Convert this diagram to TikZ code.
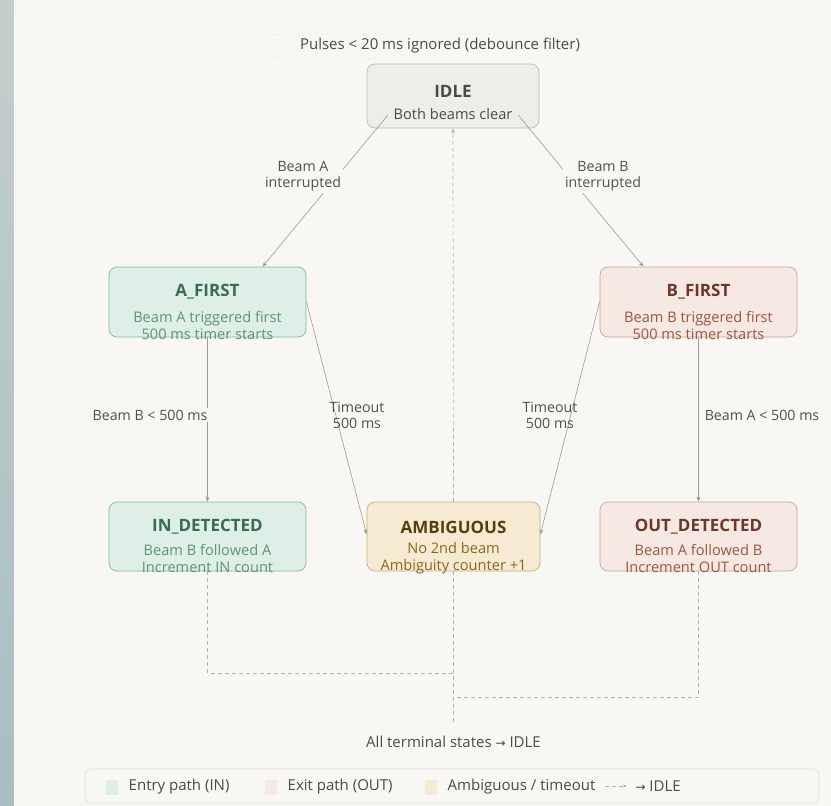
\documentclass[tikz,border=0pt]{standalone}
\usepackage{fontspec}
\setmainfont{Open Sans}
\newfontfamily\arrowfont{DejaVu Sans}
\usetikzlibrary{arrows.meta, positioning, calc}

\definecolor{pagebg}{HTML}{F8F7F3}
\definecolor{stripA}{HTML}{C4CECC}
\definecolor{stripB}{HTML}{A8BEC4}
\definecolor{idlefill}{HTML}{EEEDE8}
\definecolor{idleline}{HTML}{BEBCB6}
\definecolor{idletext}{HTML}{4A4A48}
\definecolor{infill}{HTML}{DDEFE7}
\definecolor{inline}{HTML}{8DB3A1}
\definecolor{intitle}{HTML}{3B6A55}
\definecolor{insub}{HTML}{5E937A}
\definecolor{outfill}{HTML}{F6E9E3}
\definecolor{outline}{HTML}{C8A397}
\definecolor{outtitle}{HTML}{6A392C}
\definecolor{outsub}{HTML}{9C5540}
\definecolor{ambfill}{HTML}{F6EBD2}
\definecolor{ambline}{HTML}{C6AE7A}
\definecolor{ambtitle}{HTML}{54400F}
\definecolor{ambsub}{HTML}{876821}
\definecolor{wire}{HTML}{9B9B99}
\definecolor{dashgrey}{HTML}{B3B2AE}
\definecolor{labeltext}{HTML}{505050}
\definecolor{legline}{HTML}{E0DED8}

\begin{document}
\begin{tikzpicture}[x=1pt, y=-1pt,
    statebox/.style={draw, rounded corners=8pt, line width=0.7pt,
      minimum width=197pt, minimum height=70pt, inner sep=0pt},
    titletext/.style={font=\fontsize{17}{20}\selectfont\bfseries, inner sep=0pt},
    subtext/.style={font=\fontsize{14.6}{17}\selectfont, align=center, inner sep=0pt},
    edgelabel/.style={font=\fontsize{14.2}{16}\selectfont, text=labeltext,
      align=center, fill=pagebg, inner sep=2pt},
    flow/.style={wire, line width=0.6pt, -{Stealth[length=5pt, width=4pt]}},
    back/.style={dashgrey, line width=0.7pt, dash pattern=on 4pt off 3pt},
    swatch/.style={minimum width=12pt, minimum height=15pt, inner sep=0pt},
    legtext/.style={font=\fontsize{15}{17}\selectfont, text=idletext}]

  % Canvas: grey-blue strip at the left, paper colour elsewhere
  \useasboundingbox (0,0) rectangle (831,806);
  \shade[top color=stripA, bottom color=stripB] (0,0) rectangle (14,806);
  \fill[pagebg] (14,0) rectangle (831,806);

  % Debounce note
  \node[draw=legline, dashed, rounded corners=3pt, minimum width=336pt,
    minimum height=24pt, font=\fontsize{15}{17}\selectfont, text=idletext]
    (debounce) at (440,46) {Pulses < 20 ms ignored (debounce filter)};

  % States
  \node[statebox, fill=idlefill, draw=idleline, minimum width=172pt,
    minimum height=64pt] (idle) at (453,96) {};
  \node[titletext, text=idletext] (idle-t) at (453,91) {IDLE};
  \node[subtext, text=idletext] (idle-s) at (453,114) {Both beams clear};

  \node[statebox, fill=infill, draw=inline] (afirst) at (207.5,302) {};
  \node[titletext, text=intitle] (afirst-t) at (207.5,292) {A\_FIRST};
  \node[subtext, text=insub] (afirst-s) at (207.5,325) {Beam A triggered first\\500 ms timer starts};

  \node[statebox, fill=outfill, draw=outline] (bfirst) at (698.5,302) {};
  \node[titletext, text=outtitle] (bfirst-t) at (698.5,292) {B\_FIRST};
  \node[subtext, text=outsub] (bfirst-s) at (698.5,325) {Beam B triggered first\\500 ms timer starts};

  \node[statebox, fill=infill, draw=inline, minimum height=69pt] (indet) at (207.5,536.5) {};
  \node[titletext, text=intitle] (indet-t) at (207.5,527) {IN\_DETECTED};
  \node[subtext, text=insub] (indet-s) at (207.5,558) {Beam B followed A\\Increment IN count};

  \node[statebox, fill=ambfill, draw=ambline, minimum width=173pt,
    minimum height=69pt] (ambig) at (453.5,536.5) {};
  \node[titletext, text=ambtitle] (ambig-t) at (453.5,527) {AMBIGUOUS};
  \node[subtext, text=ambsub] (ambig-s) at (453.5,558) {No 2nd beam\\Ambiguity counter +1};

  \node[statebox, fill=outfill, draw=outline, minimum height=69pt] (outdet) at (698.5,536.5) {};
  \node[titletext, text=outtitle] (outdet-t) at (698.5,527) {OUT\_DETECTED};
  \node[subtext, text=outsub] (outdet-s) at (698.5,558) {Beam A followed B\\Increment OUT count};

  % Transitions
  \draw[flow] ($(idle.south west)+(21,-13)$) -- ($(afirst.north)+(55,0)$);
  \draw[flow] ($(idle.south east)+(-21,-13)$) -- ($(bfirst.north)+(-55,0)$);
  \draw[flow] (afirst.south) -- (indet.north);
  \draw[flow] (bfirst.south) -- (outdet.north);
  \draw[flow] ($(afirst.north east)+(0,35)$) -- ($(ambig.west)+(0,-2)$);
  \draw[flow] ($(bfirst.north west)+(0,35)$) -- ($(ambig.east)+(0,-2)$);

  % Transition labels
  \node[edgelabel] (lbl-a) at (303,176) {Beam A\\interrupted};
  \node[edgelabel] (lbl-b) at (603,176) {Beam B\\interrupted};
  \node[edgelabel] (lbl-in) at (150,415) {Beam B < 500 ms};
  \node[edgelabel] (lbl-out) at (762,415) {Beam A < 500 ms};
  \node[edgelabel, fill=none] (lbl-ta) at (357,415) {Timeout\\500 ms};
  \node[edgelabel, fill=none] (lbl-tb) at (550,415) {Timeout\\500 ms};

  % Return to IDLE (dashed)
  \coordinate (merge) at ($(ambig.south)+(0,151)$);
  \draw[back] (indet.south) |- ($(ambig.south)+(0,102)$);
  \draw[back] (outdet.south) |- ($(ambig.south)+(0,126)$);
  \draw[back] (ambig.south) -- (merge);
  \draw[back, -{Stealth[length=5pt, width=4pt]}] (ambig.north) -- (idle.south);
  \node[legtext, below=10pt of merge]
    (alldone) {All terminal states {\arrowfont\fontsize{12}{16}\selectfont →} IDLE};

  % Legend
  \node[draw=legline, rounded corners=6pt, minimum width=734pt, minimum height=34pt,
    line width=0.7pt] (legend) at (452,786) {};
  \node[swatch, fill=infill] (sw-in) at (112,787) {};
  \node[legtext, right=7pt of sw-in] (lg-in) {Entry path (IN)};
  \node[swatch, fill=outfill] (sw-out) at (271,787) {};
  \node[legtext, right=7pt of sw-out] (lg-out) {Exit path (OUT)};
  \node[swatch, fill=ambfill] (sw-amb) at (431,787) {};
  \node[legtext, right=7pt of sw-amb] (lg-amb) {Ambiguous / timeout};
  \coordinate (lg-d0) at (605,786);
  \coordinate (lg-d1) at (627,786);
  \draw[back, line width=0.6pt, -{Stealth[length=4pt, width=3pt]}] (lg-d0) -- (lg-d1);
  \node[legtext, right=5pt of lg-d1]
    (lg-idle) {{\arrowfont\fontsize{12}{16}\selectfont →} IDLE};
\end{tikzpicture}
\end{document}
